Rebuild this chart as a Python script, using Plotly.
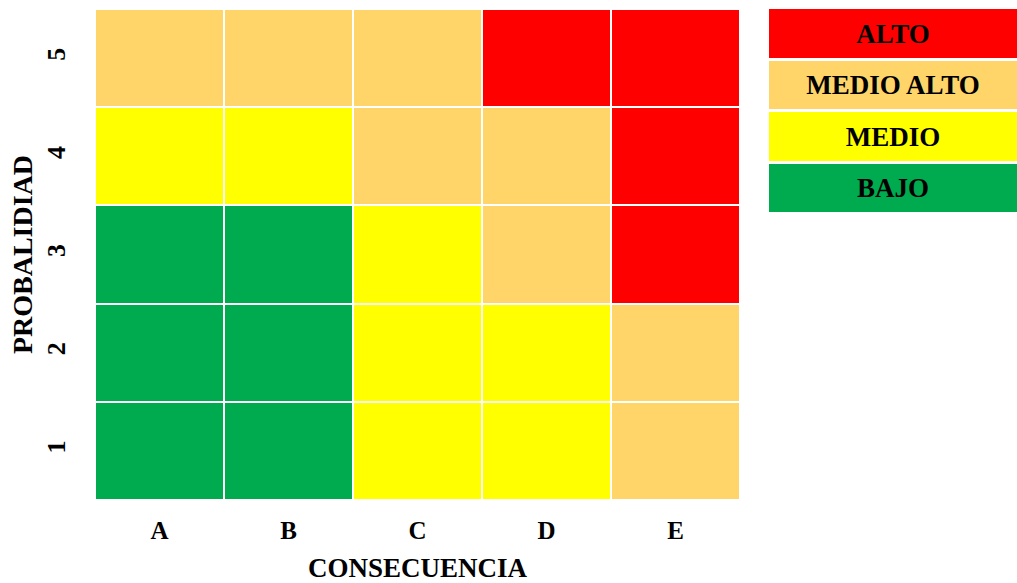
import plotly.graph_objects as go

# Risk matrix data: consequence (columns) x probability (rows)
consecuencia = ["A", "B", "C", "D", "E"]
probabilidad = ["1", "2", "3", "4", "5"]
# Risk level per cell: 0 = BAJO, 1 = MEDIO, 2 = MEDIO ALTO, 3 = ALTO
nivel = [
    [0, 0, 1, 1, 2],  # 1
    [0, 0, 1, 1, 2],  # 2
    [0, 0, 1, 2, 3],  # 3
    [1, 1, 2, 2, 3],  # 4
    [2, 2, 2, 3, 3],  # 5
]

# Legend entries (top to bottom)
niveles_nombres = ["ALTO", "MEDIO ALTO", "MEDIO", "BAJO"]
niveles_valores = [3, 2, 1, 0]

VERDE = "#00AA4F"
AMARILLO = "#FFFF00"
NARANJA = "#FFD56A"
ROJO = "#FF0000"
escala = [[0.0, VERDE], [1 / 3, AMARILLO], [2 / 3, NARANJA], [1.0, ROJO]]

FONT = "Liberation Serif"
W, H = 1017, 583


def px_x(p):
    return p / W


def px_y(p):
    return (H - p) / H


fig = go.Figure()

fig.add_trace(go.Heatmap(
    x=consecuencia,
    y=probabilidad,
    z=nivel,
    colorscale=escala,
    zmin=0, zmax=3,
    xgap=2, ygap=2,
    showscale=False,
    hoverinfo="x+y",
))

fig.add_trace(go.Heatmap(
    x=["nivel"],
    y=niveles_nombres,
    z=[[v] for v in niveles_valores],
    text=[[n] for n in niveles_nombres],
    texttemplate="<b>%{text}</b>",
    textfont=dict(family=FONT, size=27, color="black"),
    colorscale=escala,
    zmin=0, zmax=3,
    xgap=0, ygap=3,
    showscale=False,
    xaxis="x2", yaxis="y2",
    hoverinfo="text",
))

fig.update_layout(
    width=W, height=H,
    margin=dict(l=0, r=0, t=0, b=0),
    paper_bgcolor="white",
    plot_bgcolor="white",
    font=dict(family=FONT, color="black"),
    xaxis=dict(
        domain=[px_x(95), px_x(740)],
        showgrid=False, zeroline=False, ticks="",
        tickfont=dict(family=FONT, size=25, weight="bold", color="black"),
        ticklabelstandoff=13,
        title=dict(text="CONSECUENCIA", standoff=18,
                   font=dict(family=FONT, size=27, weight="bold", color="black")),
        automargin=False,
    ),
    yaxis=dict(
        domain=[px_y(500), px_y(9)],
        showgrid=False, zeroline=False, ticks="",
        tickangle=-90,
        tickfont=dict(family=FONT, size=26, weight="bold", color="black"),
        ticklabelstandoff=24,
        title=dict(text="PROBALIDIAD", standoff=0,
                   font=dict(family=FONT, size=28, weight="bold", color="black")),
        automargin=False,
    ),
    xaxis2=dict(
        domain=[px_x(769), 1.0], anchor="y2",
        showgrid=False, zeroline=False, showticklabels=False, ticks="",
    ),
    yaxis2=dict(
        domain=[px_y(214), px_y(8)], anchor="x2",
        showgrid=False, zeroline=False, showticklabels=False, ticks="",
        autorange="reversed",
    ),
)

fig.write_html("out.html")
